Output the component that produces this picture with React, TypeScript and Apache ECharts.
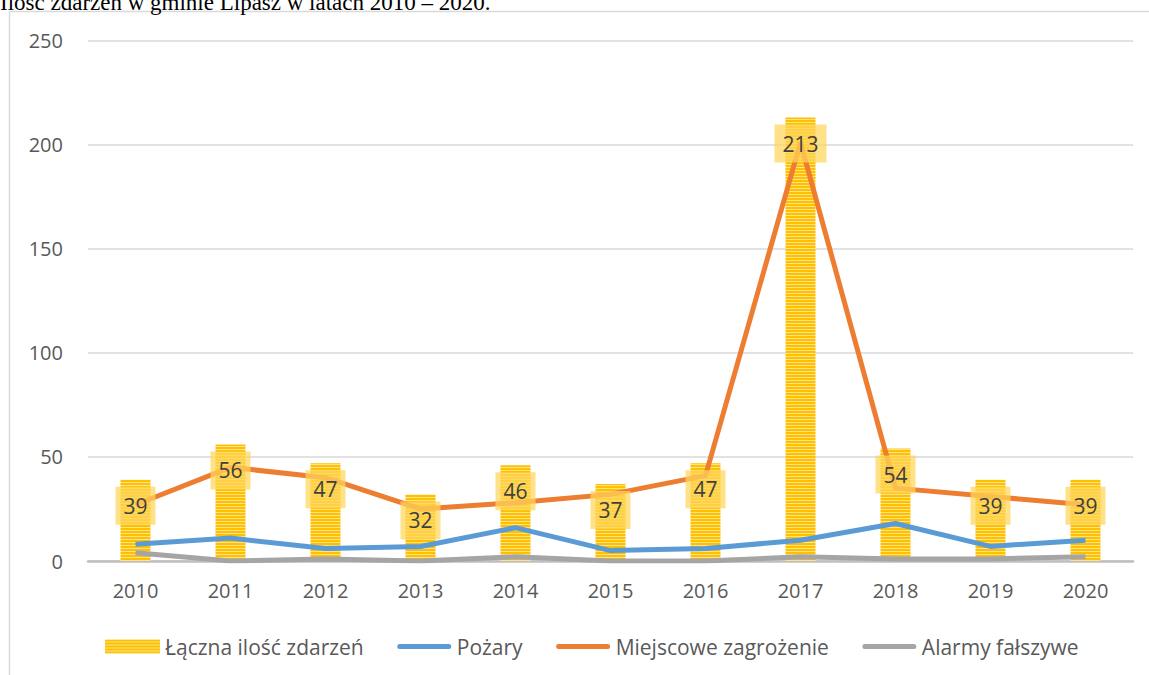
import React, { useEffect, useRef } from "react";
import * as echarts from "echarts";

const years = ["2010", "2011", "2012", "2013", "2014", "2015", "2016", "2017", "2018", "2019", "2020"];
const totalEvents = [39, 56, 47, 32, 46, 37, 47, 213, 54, 39, 39];
const fires = [8, 11, 6, 7, 16, 5, 6, 10, 18, 7, 10];
const localThreats = [27, 45, 40, 25, 28, 32, 41, 201, 35, 31, 27];
const falseAlarms = [4, 0, 1, 0, 2, 0, 0, 2, 1, 1, 2];
const yTicks = [0, 50, 100, 150, 200, 250];
const seriesNames = ["Łączna ilość zdarzeń", "Pożary", "Miejscowe zagrożenie", "Alarmy fałszywe"];
const titleText = "Ilość zdarzeń w gminie Lipasz w latach 2010 – 2020.";

const FONT = "'Open Sans', sans-serif";
const LINE_ICON = "path://M0,0 L0,0 M55,14 L55,14 M3,4.5 L52,4.5 A2.5,2.5 0 0 1 52,9.5 L3,9.5 A2.5,2.5 0 0 1 3,4.5 Z";

function makePattern() {
  const c = document.createElement("canvas");
  c.width = 8;
  c.height = 3;
  const ctx = c.getContext("2d")!;
  ctx.fillStyle = "#FFC000";
  ctx.fillRect(0, 0, 8, 3);
  ctx.fillStyle = "#FFE28A";
  ctx.fillRect(0, 2, 8, 1);
  return { image: c, repeat: "repeat", imageWidth: 8, imageHeight: 3 } as any;
}

export default function App() {
  const ref = useRef<HTMLDivElement>(null);
  useEffect(() => {
    if (!ref.current) return;
    const chart = echarts.init(ref.current, null, { renderer: "svg" });
    const pattern = makePattern();
    chart.setOption({
      animation: false,
      backgroundColor: "#ffffff",
      grid: { left: 88, right: 16, top: 40.5, bottom: 114, containLabel: false },
      graphic: [
        {
          type: "text",
          left: 0,
          top: -9,
          style: { text: titleText, font: "23px 'Liberation Serif', serif", fill: "#000000" },
          z: 100,
        },
        {
          type: "line",
          shape: { x1: 9.5, y1: 11.5, x2: 9.5, y2: 675 },
          style: { stroke: "#D9D9D9", lineWidth: 1.5 },
        },
        {
          type: "line",
          shape: { x1: 9.5, y1: 11.5, x2: 1149, y2: 11.5 },
          style: { stroke: "#D9D9D9", lineWidth: 1.5 },
        },
      ],
      legend: {
        data: [
          { name: seriesNames[0], icon: "rect" },
          { name: seriesNames[1], icon: LINE_ICON },
          { name: seriesNames[2], icon: LINE_ICON },
          { name: seriesNames[3], icon: LINE_ICON },
        ],
        left: 105,
        top: 636,
        padding: 0,
        itemWidth: 55,
        itemHeight: 14,
        itemGap: 33,
        textStyle: { fontFamily: FONT, fontSize: 21, color: "#595959" },
      },
      xAxis: {
        type: "category",
        data: years,
        boundaryGap: true,
        axisTick: { show: false },
        axisLine: { show: true, lineStyle: { color: "#BFBFBF", width: 2.5 } },
        axisLabel: { fontFamily: FONT, fontSize: 20, color: "#595959", margin: 19 },
      },
      yAxis: {
        type: "value",
        min: yTicks[0],
        max: yTicks[yTicks.length - 1],
        interval: 50,
        axisLine: { show: false },
        axisTick: { show: false },
        splitLine: { lineStyle: { color: "#D9D9D9", width: 1.5 } },
        axisLabel: { fontFamily: FONT, fontSize: 20, color: "#595959", margin: 25 },
      },
      series: [
        {
          name: seriesNames[0],
          type: "bar",
          data: totalEvents,
          barWidth: 30,
          itemStyle: { color: pattern },
          z: 1,
        },
        {
          name: seriesNames[1],
          type: "line",
          data: fires,
          symbol: "none",
          lineStyle: { color: "#5B9BD5", width: 5 },
          itemStyle: { color: "#5B9BD5" },
          z: 3,
        },
        {
          name: seriesNames[2],
          type: "line",
          data: localThreats,
          symbol: "none",
          lineStyle: { color: "#ED7D31", width: 5 },
          itemStyle: { color: "#ED7D31" },
          z: 3,
        },
        {
          name: seriesNames[3],
          type: "line",
          data: falseAlarms,
          symbol: "none",
          lineStyle: { color: "#A5A5A5", width: 5 },
          itemStyle: { color: "#A5A5A5" },
          z: 3,
        },
        {
          name: "labels",
          type: "bar",
          data: totalEvents,
          barWidth: 30,
          barGap: "-100%",
          itemStyle: { color: "rgba(0,0,0,0)" },
          z: 10,
          silent: true,
          label: {
            show: true,
            position: "insideTop",
            distance: 7,
            fontFamily: FONT,
            fontSize: 21,
            color: "#404040",
            lineHeight: 24,
            padding: [7, 8],
            backgroundColor: "rgba(255,214,90,0.72)",
          },
        },
      ],
    });
    return () => chart.dispose();
  }, []);
  return (
    <div
      ref={ref}
      style={{ position: "fixed", left: 0, top: 0, width: 1149, height: 675, background: "#fff" }}
    />
  );
}
